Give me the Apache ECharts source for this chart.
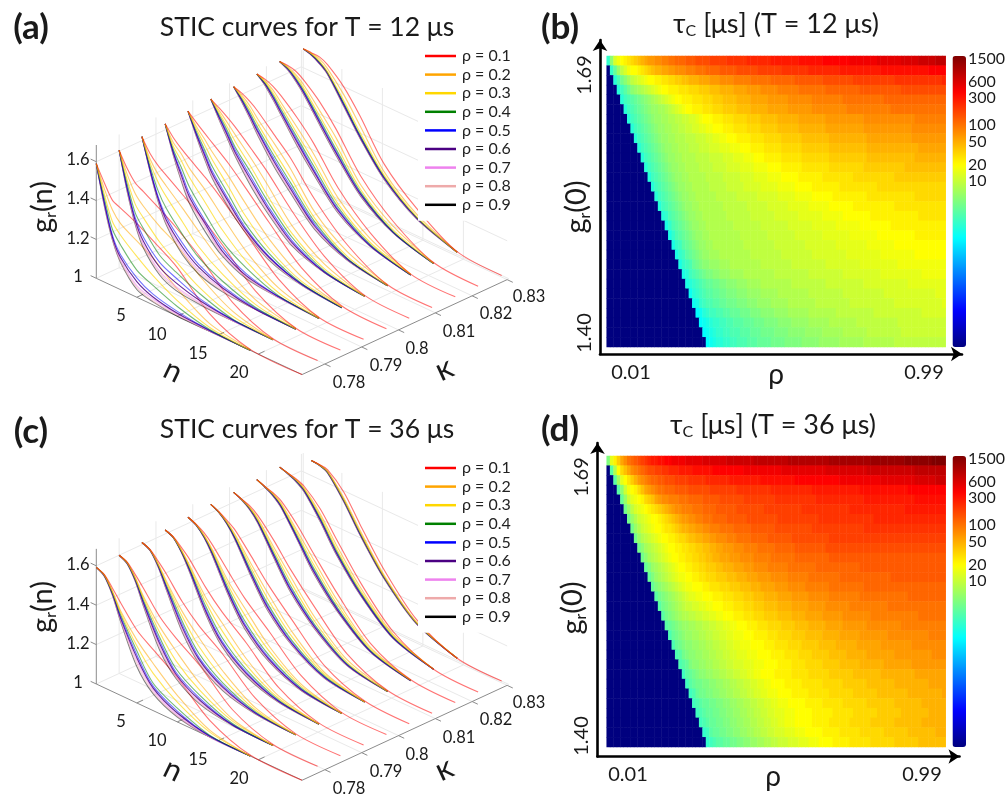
<!DOCTYPE html>
<html><head><meta charset="utf-8">
<style>html,body{margin:0;padding:0;background:#fff}#c{width:1008px;height:795px}</style>
<script src="https://cdn.jsdelivr.net/npm/echarts@6/dist/echarts.min.js"></script>
</head><body><div id="c"></div>
<script>
const rhoNames=['ρ = 0.1','ρ = 0.2','ρ = 0.3','ρ = 0.4','ρ = 0.5','ρ = 0.6','ρ = 0.7','ρ = 0.8','ρ = 0.9'];
const rhoColors=['#ff0000','#ffa500','#ffd700','#008000','#0000ff','#4b0082','#ee82ee','#eeaaaa','#000000'];
const kappas=[0.7738,0.78,0.7862,0.7925,0.7987,0.8049,0.8111,0.8174,0.8236,0.83];
const nSamples=[0,1,2,3,5,7,10,14,19];
const nEnds=[25.4,24.5,24.5,24.5,24.5,24.5,24.5,24.5,24.5,24.5];
const nTicks=[5,10,15,20];
const kappaTicks=[0.78,0.79,0.8,0.81,0.82,0.83];
const gTicks=[1,1.2,1.4,1.6];
const cbarTicks=[1500,600,300,100,50,20,10];
// g_r(n)-1 in thousandths, per kappa, per rho, at nSamples + curve end
const stic12=[
[[590,510,440,420,380,330,250,90,5,0],[590,480,390,340,290,240,140,40,5,0],[590,450,330,280,210,150,80,20,0,0],[590,430,290,230,140,100,50,10,0,0],[590,410,260,180,100,55,25,5,0,0],[590,405,250,165,80,40,15,5,0,0],[590,400,245,155,60,30,10,0,0,0],[590,395,240,145,50,20,5,0,0,0],[590,390,235,140,40,15,0,0,0,0]],
[[605,530,475,450,400,345,250,95,5,0],[605,500,420,375,310,260,150,50,0,0],[605,470,365,315,230,170,90,25,0,0],[605,450,320,260,162,115,60,10,0,0],[605,430,295,215,125,85,35,5,0,0],[605,425,280,195,100,60,25,5,0,0],[605,420,272,180,80,40,15,0,0,0],[605,415,266,170,70,30,10,0,0,0],[605,410,260,160,60,20,5,0,0,0]],
[[620,553,510,480,420,360,255,100,5,0],[620,525,465,425,350,270,160,55,5,0],[620,505,425,370,280,190,105,30,0,0],[620,487,380,310,215,135,70,15,0,0],[620,472,350,265,170,100,45,10,0,0],[620,468,340,250,150,85,35,5,0,0],[620,465,335,240,135,70,28,5,0,0],[620,462,330,232,120,60,20,5,0,0],[620,460,325,225,110,50,15,5,0,0]],
[[631,580,542,510,450,380,260,105,5,0],[631,555,515,460,385,295,170,60,5,0],[631,535,480,415,320,225,120,35,0,0],[631,520,445,365,260,165,85,20,0,0],[631,508,420,330,225,130,55,15,0,0],[631,503,405,313,210,115,45,15,0,0],[631,498,392,300,200,105,40,10,0,0],[631,494,383,290,190,97,35,10,0,0],[631,490,375,280,170,90,30,10,0,0]],
[[642,605,570,537,470,390,265,110,10,0],[642,585,540,490,405,310,180,65,5,0],[642,572,512,450,350,245,130,40,5,0],[642,560,487,415,310,205,105,30,0,0],[642,550,472,392,285,185,90,25,0,0],[642,545,460,378,272,175,85,25,0,0],[642,541,452,368,262,170,80,22,0,0],[642,538,446,361,253,165,75,20,0,0],[642,535,440,355,245,160,70,20,0,0]],
[[650,625,597,565,490,410,270,115,10,0],[650,612,570,525,440,345,195,75,5,0],[650,600,547,490,395,290,155,50,5,0],[650,590,530,462,365,262,135,40,5,0],[650,582,517,447,342,240,118,35,5,0],[650,577,508,435,327,226,107,33,5,0],[650,572,500,427,315,216,100,32,5,0],[650,568,495,420,305,208,95,31,5,0],[650,565,490,415,295,200,90,30,5,0]],
[[659,645,622,590,510,430,275,120,10,0],[659,635,600,550,465,375,210,85,10,0],[659,625,580,525,425,330,178,60,5,0],[659,618,565,505,400,303,160,50,5,0],[659,613,555,492,383,285,147,47,5,0],[659,609,548,484,370,272,137,45,5,0],[659,606,543,476,360,263,130,43,5,0],[659,603,538,470,352,256,125,41,5,0],[659,600,535,465,345,250,120,40,5,0]],
[[669,662,645,615,540,450,280,125,10,0],[669,655,625,580,490,395,228,95,10,0],[669,648,610,560,458,357,197,75,8,0],[669,643,600,545,438,333,181,65,5,0],[669,640,592,535,424,317,170,60,5,0],[669,637,587,528,414,307,163,58,5,0],[669,635,582,522,406,300,158,57,5,0],[669,632,578,518,400,295,154,56,5,0],[669,630,575,515,395,290,150,55,5,0]],
[[679,678,668,640,565,465,285,130,15,0],[679,672,650,615,520,420,240,105,12,0],[679,667,640,598,492,385,215,85,10,0],[679,664,632,587,475,362,202,77,10,0],[679,662,627,580,465,350,195,74,10,0],[679,660,623,575,458,343,190,73,10,0],[679,658,620,571,453,338,186,72,10,0],[679,656,617,568,449,334,183,71,10,0],[679,655,615,565,445,330,180,70,10,0]],
[[688,688,686,665,590,480,290,140,15,0],[688,685,675,645,550,430,250,110,12,0],[688,682,664,628,520,395,232,98,12,0],[688,680,660,625,508,382,225,94,12,0],[688,678,656,622,502,376,220,92,12,0],[688,677,654,620,498,372,217,90,12,0],[688,676,652,618,495,370,214,88,12,0],[688,675,651,616,492,367,212,87,12,0],[688,675,650,615,490,365,210,86,12,0]]
];
const stic36=[
[[592,575,525,470,370,310,225,85,5,0],[592,572,510,430,320,240,135,35,0,0],[592,572,505,420,290,190,100,25,0,0],[592,570,500,410,265,140,70,10,0,0],[592,570,498,400,245,125,55,5,0,0],[592,568,495,392,230,115,45,5,0,0],[592,568,493,385,215,105,35,0,0,0],[592,566,490,380,200,95,30,0,0,0],[592,565,488,375,185,86,25,0,0,0]],
[[600,585,540,490,385,315,230,85,5,0],[600,582,525,450,335,250,140,38,0,0],[600,581,520,440,305,200,105,27,0,0],[600,580,517,430,280,160,80,15,0,0],[600,579,514,422,262,142,65,10,0,0],[600,578,511,415,248,132,55,8,0,0],[600,577,509,410,235,124,47,7,0,0],[600,576,507,405,225,117,40,6,0,0],[600,575,505,400,215,110,35,5,0,0]],
[[611,595,555,510,405,325,235,90,5,0],[611,593,542,475,355,265,150,42,0,0],[611,592,538,465,330,220,115,30,0,0],[611,592,535,455,305,185,90,22,0,0],[611,591,532,447,288,165,77,17,0,0],[611,591,530,442,275,155,68,15,0,0],[611,590,528,437,265,148,62,13,0,0],[611,590,526,433,257,140,55,11,0,0],[611,590,525,430,250,135,50,10,0,0]],
[[620,605,570,530,425,340,240,90,5,0],[620,603,558,500,375,285,160,47,0,0],[620,603,555,492,352,245,128,35,0,0],[620,602,552,485,330,210,105,27,0,0],[620,602,550,480,315,192,92,22,0,0],[620,601,548,475,305,182,85,20,0,0],[620,601,547,472,300,175,80,18,0,0],[620,600,546,468,295,170,75,16,0,0],[620,600,545,465,290,165,70,15,0,0]],
[[631,615,590,550,450,355,245,95,5,0],[631,614,578,525,400,305,170,52,0,0],[631,613,575,518,380,270,145,42,0,0],[631,612,572,512,362,240,122,33,0,0],[631,612,570,507,350,225,110,28,0,0],[631,611,568,503,343,216,102,25,0,0],[631,611,567,500,338,210,97,23,0,0],[631,610,566,497,334,205,93,21,0,0],[631,610,565,495,330,200,90,20,0,0]],
[[643,625,600,570,475,375,250,95,10,0],[643,624,592,548,435,330,190,60,5,0],[643,623,589,540,415,300,165,50,5,0],[643,622,586,533,398,275,145,42,5,0],[643,622,584,529,388,262,135,37,5,0],[643,621,583,526,382,254,129,35,5,0],[643,621,582,524,378,248,125,33,5,0],[643,620,581,522,374,244,122,31,5,0],[643,620,580,520,370,240,120,30,5,0]],
[[650,635,620,590,500,395,260,100,10,0],[650,634,612,575,465,360,210,70,8,0],[650,633,609,568,448,333,188,57,5,0],[650,633,607,563,435,312,172,50,5,0],[650,632,605,559,427,300,164,46,5,0],[650,632,603,556,421,293,159,44,5,0],[650,631,602,554,417,288,155,42,5,0],[650,631,601,552,413,284,152,41,5,0],[650,630,600,550,410,280,150,40,5,0]],
[[660,645,632,610,525,420,270,100,10,0],[660,644,628,598,495,390,235,80,8,0],[660,643,625,592,480,365,215,70,7,0],[660,643,622,587,470,347,200,64,6,0],[660,642,620,583,462,337,193,60,6,0],[660,642,619,581,458,331,188,58,5,0],[660,641,618,579,455,327,185,57,5,0],[660,641,617,577,452,323,182,56,5,0],[660,640,615,575,450,320,180,55,5,0]],
[[670,660,650,632,555,440,275,105,10,0],[670,659,646,623,530,410,250,92,10,0],[670,658,644,618,518,392,235,84,10,0],[670,658,642,615,510,381,226,79,10,0],[670,657,640,612,503,374,220,75,10,0],[670,657,639,610,499,369,216,73,10,0],[670,656,638,608,496,366,214,72,10,0],[670,656,637,606,493,363,212,71,10,0],[670,655,635,604,490,360,210,70,10,0]],
[[null,668,667,660,585,460,285,110,10,0],[null,668,665,652,555,430,258,97,10,0],[null,668,664,649,547,420,251,93,10,0],[null,668,664,648,544,416,248,92,10,0],[null,668,663,647,542,413,246,91,10,0],[null,668,663,646,540,411,244,90,10,0],[null,668,663,645,538,409,243,89,10,0],[null,668,662,644,536,407,241,88,10,0],[null,668,662,643,535,405,240,88,10,0]]
];
// heat-map rows, top (g_r(0)=1.69) to bottom (1.40): run length + colour level per cell; '.' = below colour scale
const tauRows12=[
"1e1l1r1t1u1v1w1x1y1z1A1B2C2D2E2F3G3H4I5J6K7L8M7N8O8P7Q5R5S3T",
"1.1e1i1m1p1r1t2u1v1w1x1y1z2A2B2C3D3E3F4G5H6I7J8K9L12M14N5O",
"2.1d1g1j1l1n1p1q1r1s1t2u2v2w2x2y2z3A3B3C4D5E6F7G8H9I12J14K1L",
"3.1d1f1h1j1l1m1n1o1p1q1r1s1t2u3v3w3x3y3z4A4B4C5D6E8F10G12H13I",
"4.1d1f1g1h1i1j1k1l1m1n1o1p1q1r1s1t2u3v3w3x3y4z4A5B6C7D9E12F18G",
"5.1d1f1g1h1i1j1k1l2m2n1o1p1q1r1s1t2u3v3w3x4y4z5A6B7C10D13E16F",
"6.1d1f1g1h1i1j1k1l2m2n2o2p2q2r1s1t3u3v3w4x4y5z6A8B11C15D11E",
"7.1d1f1g1h1i1j1k1l2m2n2o2p2q2r2s2t3u3v4w4x5y6z8A11B14C9D",
"8.1d1f1g1h1i1j1k1l2m2n3o3p3q2r2s2t3u4v4w5x6y8z11A13B9C",
"9.1d1f1g1h1i1j1k1l2m2n3o3p3q3r3s3t3u4v5w6x8y11z15A6B",
"10.1d1f1g1h1i1j1k1l2m2n4o4p4q3r3s3t3u5v6w8x11y14z9A",
"11.1d1f1g1h1i1j1k1l2m2n4o4p4q4r4s4t4u6v8w10x12y12z",
"12.1d1f1g1h1i1j1k1l2m2n5o5p5q4r4s4t5u7v9w12x17y",
"13.1d1f1g1h1i1j1k1l2m2n5o5p5q5r5s5t5u8v11w22x",
"14.1d1f1g1h1i1j1k1l2m2n6o6p6q6r5s5t6u10v14w11x",
"15.1d1f1g1h1i1j1k1l2m2n7o7p6q6r6s6t7u12v17w",
"16.1d1e1g1h1i1j1k1l2m2n7o7p7q7r7s6t8u14v9w",
"17.1c1e1g1h1i1j1k1l2m2n8o8p8q7r7s7t9u19v",
"18.1c1e1g1h1i1j1k1l2m2n9o8p8q8r8s8t11u12v",
"19.1c1e1f1h1i1j1k1l2m2n9o9p9q9r9s8t15u",
"20.1c1e1f1h1i1j1k1l2m3n9o9p9q10r10s10t10u",
"21.1c1e1f1g1i1j1k2l3m3n9o9p10q10r11s14t",
"22.1c1d1f1g1h1i1j2k2l3m4n9o10p10q11r12s7t",
"23.1c1d1e1f1g1h2i2j2k3l3m4n9o10p11q13r11s",
"24.1b1d1e1f1g2h2i2j3k3l4m5n9o10p12q15r3s",
"25.1b1c1e1f2g2h2i3j3k3l4m5n8o10p13q14r1s",
"26.1a1b1d1e2f2g2h3i3j3k4l4m6n8o11p14q7r",
"27.1a1b1c1d2e2f2g3h3i3j4k4l5m6n8o12p14q",
"28.1a1b1c1d2e2f3g3h3i4j4k5l5m6n7o10p13q",
"29.1a1b1c2d2e2f3g3h4i4j5k5l6m7n9o15p"
];
const tauRows36=[
"1k1s1v1y1B1D1F1G1H1I1J1K1L2M2N2O4P5Q7R8S10T12U12V10W8X4Y",
"1.1h1o1u1x1z1B1D1E1F1G1H2I2J2K3L4M6N9O11P13Q12R14S9T",
"2.1h1n1s1u1w1y1A1C1D1E1F2G2H3I4J5K7L9M10N13O12P10Q6R3S",
"3.1h1l1q1t1u1v1x1z1B1C1D1E2F3G4H6I8J10K12L14M14N12O",
"4.1i1m1q1s1t1u1v1x1y1z1B1C2D3E3F4G5H7I9J12K14L15M9N",
"5.1j1m1p1r1s1t1u1v1w1x1y1z1A1B1C2D3E3F4G6H8I11J14K16L12M",
"6.1j1m1o1q1r1s1t2u1v1w1x1y1z1A1B2C2D2E3F4G6H9I12J16K21L",
"7.1j1m1o1q1r1s1t2u1v2w1x1y1z2A2B2C2D3E4F5G7H11I15J24K",
"8.1j1m1o1p1q1r1s1t2u2v1w2x1y2z2A2B2C3D3E4F5G7H11I34J",
"9.1j1l1n1o1p1q1r1s1t2u2v2w2x2y2z2A2B3C3D4E5F6G9H35I",
"10.1j1l1n1o1p1q1r1s1t2u2v2w2x2y2z2A3B3C4D5E7F10G34H",
"11.1i1k1m1n1o1p1q1r1s1t2u2v2w2x3y2z3A3B3C4D6E8F13G25H",
"12.1i1k1m1n1o1p1q1r1s2t2u2v2w3x3y3z3A3B4C5D6E9F15G16H",
"13.1i1k1l1m1n1o1p1q1r1s2t3u2v3w3x3y3z3A4B4C5D7E10F24G",
"14.1h1j1k1l1m1n1o1p1q1r2s2t3u3v3w3x3y3z4A4B5C6D9E14F11G",
"15.1h1j1k1l1m1n1o1p2q2r2s2t3u3v3w3x3y4z4A5B5C7D11E17F",
"16.1h1j1k1l1m1n2o2p2q2r2s2t3u3v3w3x4y4z4A5B6C8D14E8F",
"17.1h1i1j1k1l2m2n2o2p2q2r2s2t3u3v3w4x4y4z5A5B7C10D13E",
"18.1g1i1j1k1l2m2n2o2p2q2r2s3t3u4v3w4x4y5z5A6B8C12D5E",
"19.1g1i1j1k2l2m2n2o2p2q2r2s3t4u3v4w4x5y5z6A7B9C10D",
"20.1g1h1j1k2l2m2n2o2p2q2r3s3t4u4v4w4x5y5z6A8B11C4D",
"21.1g1h1i1k2l2m2n2o2p2q3r3s3t4u4v4w5x5y6z7A8B10C",
"22.1f1h1i1j1k2l2m2n2o2p2q2r2s2t4u5v5w6x7y8z10A9B",
"23.1f1h1i2j2k2l2m2n2o2p2q2r2s2t4u5v6w6x7y8z10A5B",
"24.1f1g1i2j2k2l2m2n2o2p2q2r2s3t4u5v6w7x7y9z10A1B",
"25.1f1g1h2i2j2k2l2m2n2o2p2q2r2s3t5u5v6w7x8y8z7A",
"26.1f1g1h2i2j2k2l2m2n2o2p2q2r3s3t5u6v6w7x7y8z5A",
"27.1f1g1h2i2j2k2l2m2n2o2p2q2r2s3t5u5v6w6x7y8z7A",
"28.1e1f1h2i2j2k2l2m2n2o2p2q3r3s3t5u5v6w7x7y8z4A",
"29.1e1f1g2h2i2j2k2l2m2n2o2p3q3r3s3t4u5v6w7x7y8z"
];
const rhoCats=[];for(let i=1;i<=99;i++)rhoCats.push((i/100).toFixed(2));
const g0Cats=[];for(let i=69;i>=40;i--)g0Cats.push((1+i/100).toFixed(2));

const LV='abcdefghijklmnopqrstuvwxyzABCDEFGHIJKLMNOPQRSTUVWXY';
const LG_MIN=-1.95,LG_MAX=3.23;
function cells(rows){const out=[];rows.forEach((s,r)=>{const vals=[];
  s.replace(/(\d+)(.)/g,(m,c,ch)=>{for(let k=0;k<+c;k++)vals.push(ch);return m;});
  while(vals.length<99)vals.push(vals[vals.length-1]);
  vals.slice(0,99).forEach((ch,c)=>{const t=ch==='.'?0:0.375+0.0125*LV.indexOf(ch);
    out.push([c,r,LG_MIN+t*(LG_MAX-LG_MIN)]);});});return out;}

const FONT="Lato,'Open Sans',sans-serif";
const panels=[
 {data:stic12,ox:96.3,oy:278.3,unit:194.3},
 {data:stic36,ox:96.3,oy:684,unit:197}
];
const K0=0.7738,K1=0.8295,NMAX=25.4,GTOP=1.686;
function proj(p,n,k,g){return [p.ox+8.1*n+(k-K0)*3682, p.oy+3.79*n-(k-K0)*1704-(g-1)*p.unit];}

const series=[];
series.push({type:'heatmap',xAxisIndex:1,yAxisIndex:1,data:cells(tauRows12),silent:true,itemStyle:{borderWidth:0}});
series.push({type:'heatmap',xAxisIndex:2,yAxisIndex:2,data:cells(tauRows36),silent:true,itemStyle:{borderWidth:0}});
function seg(a,b,color,z){series.push({type:'line',xAxisIndex:0,yAxisIndex:0,data:[a,b],showSymbol:false,silent:true,z:z,clip:false,animation:false,lineStyle:{color:color,width:1}});}
const opac=[0.55,0.55,0.65,0.55,0.55,0.85,0.55,0.5,0.5];
panels.forEach(p=>{
  const G='#e9e9e9',A='#8c8c8c';
  [1.2,1.4,1.6].forEach(g=>{seg(proj(p,0,K0,g),proj(p,0,K1,g),G,1);seg(proj(p,0,K1,g),proj(p,NMAX,K1,g),G,1);});
  seg(proj(p,0,K1,1),proj(p,0,K1,GTOP),G,1);
  kappaTicks.forEach(k=>{seg(proj(p,0,k,1),proj(p,0,k,GTOP),G,1);seg(proj(p,0,k,1),proj(p,NMAX,k,1),G,1);});
  nTicks.forEach(n=>{seg(proj(p,n,K1,1),proj(p,n,K1,GTOP),G,1);seg(proj(p,n,K0,1),proj(p,n,K1,1),G,1);});
  seg(proj(p,0,K0,1),proj(p,0,K1,1),G,1);seg(proj(p,0,K1,1),proj(p,NMAX,K1,1),G,1);
  seg(proj(p,0,K0,1),proj(p,0,K0,GTOP),A,2);
  seg(proj(p,0,K0,1),proj(p,NMAX,K0,1),A,2);
  seg(proj(p,NMAX,K0,1),proj(p,NMAX,K1,1),A,2);
  gTicks.forEach(g=>seg(proj(p,-0.7,K0,g),proj(p,0,K0,g),A,2));
  nTicks.forEach(n=>seg(proj(p,n,K0,1),proj(p,n,K0+0.0017,1),A,2));
  kappaTicks.forEach(k=>seg(proj(p,NMAX,Math.min(k,K1),1),proj(p,NMAX+0.7,Math.min(k,K1),1),A,2));
  p.data.forEach((fam,i)=>{
    const ns=nSamples.concat([nEnds[i]]);
    for(let r=fam.length-1;r>=0;r--){
      const pts=[];
      // past n=19 all curves coincide: only rho=0.1 shows in the tail
      fam[r].forEach((v,j)=>{if(v!==null&&(r===0||j<ns.length-1))pts.push(proj(p,ns[j],kappas[i],1+v/1000));});
      series.push({type:'line',name:rhoNames[r],xAxisIndex:0,yAxisIndex:0,data:pts,showSymbol:false,silent:true,
        smooth:0.3,clip:false,z:3,
        itemStyle:{color:rhoColors[r]},lineStyle:{color:rhoColors[r],width:1.1,opacity:opac[r]}});
    }
  });
});

const jet=['#00007f','#0000ff','#007fff','#00ffff','#7fff7f','#ffff00','#ff7f00','#ff0000','#7f0000'];
function vm(idx,top){return {type:'continuous',seriesIndex:idx,min:LG_MIN,max:LG_MAX,calculable:false,inRange:{color:jet},
  left:952.5,top:top,itemWidth:13.5,itemHeight:291,padding:0,text:null,hoverLink:false,borderRadius:0};}
function legend(top){return {data:rhoNames,selectedMode:false,left:418,top:top,orient:'vertical',padding:[6,3,8,7],backgroundColor:'#fff',
  icon:'rect',itemWidth:31,itemHeight:2.5,itemGap:2.6,z:10,
  itemStyle:{opacity:1},textStyle:{fontFamily:FONT,fontSize:16,lineHeight:14,color:'#222',padding:[0,0,0,1]}};}
function T(text,x,y,size,opts){opts=opts||{};
  return {type:'text',x:x,y:y,rotation:opts.rot||0,z:20,silent:true,
   style:{text:text,fontFamily:FONT,fontSize:size,fontWeight:opts.bold?'bold':'normal',fill:opts.fill||'#1a1a1a',align:'center',verticalAlign:'middle',rich:opts.rich}};}
function sub(size,ssize){return {a:{fontFamily:FONT,fontSize:size,fill:'#1a1a1a',lineHeight:size*1.1},b:{fontFamily:FONT,fontSize:ssize,fill:'#1a1a1a',verticalAlign:'bottom',lineHeight:size*0.9}};}
const R90=Math.PI/2;
const texts=[
 T('(a)',31,28,35,{bold:true}),T('(b)',560,28,35,{bold:true}),T('(c)',31,432,35,{bold:true}),T('(d)',560,430,35,{bold:true}),
 T('STIC curves for T = 12 μs',307,27,26.5),T('STIC curves for T = 36 μs',307,429,26.5),
 T('{a|τ}{b|C}{a| [μs] (T = 12 μs)}',776,24,27,{rich:sub(27,16)}),
 T('{a|τ}{b|C}{a| [μs] (T = 36 μs)}',773,425,27,{rich:sub(27,16)}),
 T('{a|g}{b|r}{a|(n)}',43,207,29,{rot:R90,rich:sub(29,16)}),T('{a|g}{b|r}{a|(n)}',43,607,29,{rot:R90,rich:sub(29,16)}),
 T('{a|g}{b|r}{a|(0)}',577,207,29,{rot:R90,rich:sub(29,16)}),T('{a|g}{b|r}{a|(0)}',573,608,29,{rot:R90,rich:sub(29,16)}),
 T('n',173,371,30,{rot:-0.45}),T('n',173,770,30,{rot:-0.45}),
 T('κ',444,369,32,{rot:0.43}),T('κ',444,769,32,{rot:0.43}),
 T('ρ',776,375,28),T('ρ',773,777,28),
 T('0.01',631,373,20),T('0.99',924,373,20),T('0.01',628,775,20),T('0.99',922,775,20),
 T('1.69',585,75,20,{rot:R90}),T('1.40',585,333,20,{rot:R90}),T('1.69',582,477,20,{rot:R90}),T('1.40',582,736,20,{rot:R90})
];
const nLabelPos=[[121,316],[157,335],[198,354],[239,373]];
const kLabelPos=[[349,383],[386,366],[417,349],[459,332],[496,314],[529,297]];
const kLabelTxt=['0.78','0.79','0.8','0.81','0.82','0.83'];
const gLabelPos=[[78,277],[78,238.5],[78,199],[78,159.5]];
const gLabelTxt=['1','1.2','1.4','1.6'];
[0,1].forEach(idx=>{const off=idx?405.5:0;
  nTicks.forEach((n,i)=>texts.push(T(String(n),nLabelPos[i][0],nLabelPos[i][1]+off,16.5)));
  kLabelTxt.forEach((s,i)=>texts.push(T(s,kLabelPos[i][0],kLabelPos[i][1]+off,16.5)));
  gLabelTxt.forEach((s,i)=>texts.push(T(s,gLabelPos[i][0],gLabelPos[i][1]+off,16.5)));
});

function cbarAxis(gi){return {gridIndex:gi,type:'value',position:'right',min:LG_MIN,max:LG_MAX,
  axisLine:{show:false},axisTick:{show:false},splitLine:{show:false},
  axisLabel:{show:true,customValues:cbarTicks.map(v=>Math.log10(v)),formatter:v=>String(Math.round(Math.pow(10,v)/10)*10),margin:6.5,fontFamily:FONT,fontSize:16,color:'#1a1a1a'}};}
function hidX(gi){return {gridIndex:gi,type:'value',min:0,max:1,show:false};}
function arrowX(gi){return {gridIndex:gi,type:'value',min:0,max:1,axisLine:{show:true,symbol:['none','arrow'],symbolSize:[11,11],lineStyle:{color:'#000',width:2.6}},axisTick:{show:false},axisLabel:{show:false},splitLine:{show:false}};}
function arrowY(gi){return {gridIndex:gi,type:'value',min:0,max:1,axisLine:{show:true,symbol:['none','arrow'],symbolSize:[11,11],lineStyle:{color:'#000',width:2.6}},axisTick:{show:false},axisLabel:{show:false},splitLine:{show:false}};}
function catX(gi){return {gridIndex:gi,type:'category',data:rhoCats,show:false};}
function catY(gi){return {gridIndex:gi,type:'category',data:g0Cats,inverse:true,show:false};}

const option={animation:false,backgroundColor:'#fff',
 grid:[
  {left:0,top:0,width:1008,height:795},
  {left:606.7,top:56,width:339,height:291},
  {left:606.7,top:456,width:339,height:291},
  {left:952.5,top:56,width:13.5,height:291},
  {left:952.5,top:456,width:13.5,height:291},
  {left:600,top:40,width:362,height:314},
  {left:597.5,top:443,width:362,height:313.5}
 ],
 xAxis:[{gridIndex:0,type:'value',min:0,max:1008,show:false},catX(1),catX(2),hidX(3),hidX(4),arrowX(5),arrowX(6)],
 yAxis:[{gridIndex:0,type:'value',min:0,max:795,inverse:true,show:false},catY(1),catY(2),cbarAxis(3),cbarAxis(4),arrowY(5),arrowY(6)],
 visualMap:[vm(0,56),vm(1,456)],
 legend:[legend(42),legend(454)],
 series:series,
 graphic:{elements:texts}
};
const chart=echarts.init(document.getElementById('c'),null,{renderer:'canvas'});
chart.setOption(option);
</script></body></html>
